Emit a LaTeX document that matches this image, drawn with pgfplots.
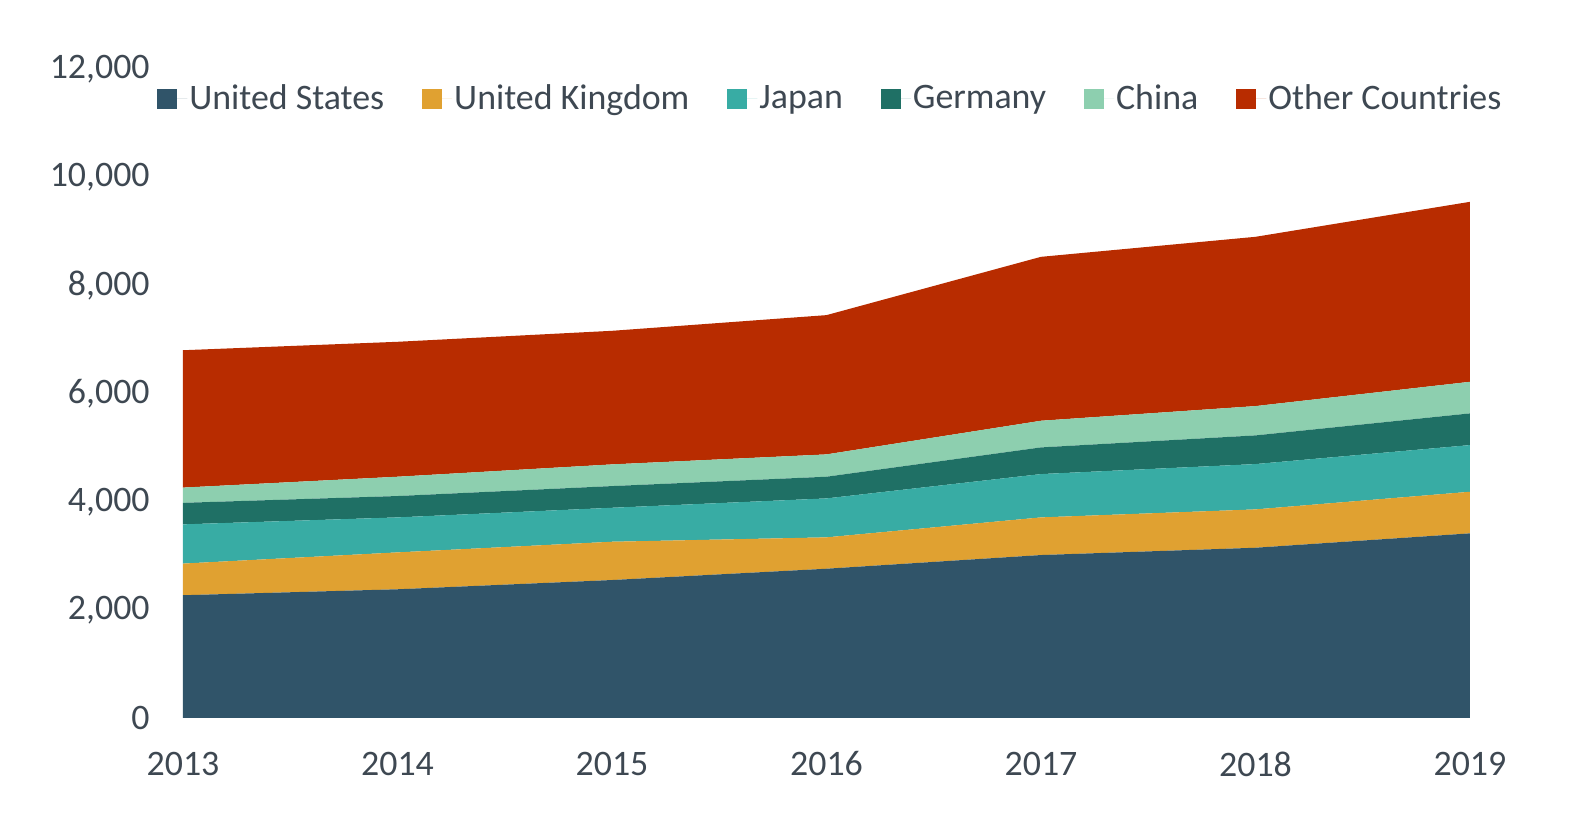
\documentclass[border=0pt]{standalone}
\usepackage{pgfplots}
\pgfplotsset{compat=1.18}
\usepackage{fontspec}
\setmainfont{Carlito}
\definecolor{usc}{HTML}{305469}
\definecolor{ukc}{HTML}{E0A131}
\definecolor{jpc}{HTML}{38ACA4}
\definecolor{dec}{HTML}{1F7065}
\definecolor{cnc}{HTML}{8DCFAF}
\definecolor{otc}{HTML}{B82C00}
\definecolor{txt}{HTML}{3E4852}
\begin{document}
\begin{tikzpicture}
\begin{axis}[
  at={(0,0)}, anchor=south west,
  scale only axis,
  width=643.5bp, height=324.5bp,
  xmin=2013, xmax=2019,
  ymin=0, ymax=12000,
  xtick={2013,2014,2015,2016,2017,2018,2019},
  xticklabels={2013,2014,2015,2016,2017,2018,2019},
  ytick={0,2000,4000,6000,8000,10000,12000},
  /pgf/number format/assume math mode=true,
  /pgf/number format/1000 sep={,},
  scaled y ticks=false,
  axis line style={draw=none},
  tick style={draw=none},
  major tick length=0pt,
  ticklabel style={font=\fontsize{18}{20}\selectfont, text=txt, inner sep=0pt},
  xticklabel style={anchor=center, yshift=-23bp},
  yticklabel style={anchor=east, xshift=-16.5bp},
  stack plots=y,
  legend columns=-1,
  legend style={draw=none, fill=none, at={(0.503,0.9545)}, anchor=center,
    font=\fontsize{18}{20}\selectfont, text=txt,
    /tikz/every even column/.append style={column sep=18bp},
    nodes={inner sep=1bp}},
  legend image code/.code={\path (0bp,0bp) -- (15bp,0bp);\fill[#1] (0bp,-5bp) rectangle (10bp,5bp);},
]
\addplot[fill=usc, draw=none] coordinates {(2013,2270) (2014,2380) (2015,2551) (2016,2760) (2017,3013) (2018,3148) (2019,3414)} \closedcycle;
\addlegendentry{United States}
\addplot[fill=ukc, draw=none] coordinates {(2013,585) (2014,682) (2015,708) (2016,580) (2017,696) (2018,709) (2019,769)} \closedcycle;
\addlegendentry{United Kingdom}
\addplot[fill=jpc, draw=none] coordinates {(2013,725) (2014,647) (2015,628) (2016,720) (2017,801) (2018,838) (2019,863)} \closedcycle;
\addlegendentry{Japan}
\addplot[fill=dec, draw=none] coordinates {(2013,398) (2014,395) (2015,401) (2016,401) (2017,493) (2018,530) (2019,586)} \closedcycle;
\addlegendentry{Germany}
\addplot[fill=cnc, draw=none] coordinates {(2013,282) (2014,357) (2015,401) (2016,413) (2017,493) (2018,542) (2019,584)} \closedcycle;
\addlegendentry{China}
\addplot[fill=otc, draw=none] coordinates {(2013,2540) (2014,2495) (2015,2470) (2016,2575) (2017,3031) (2018,3130) (2019,3328)} \closedcycle;
\addlegendentry{Other Countries}
\end{axis}
\pgfresetboundingbox
\path[use as bounding box] (-91.5bp,-59.5bp) rectangle (706bp,359bp);
\end{tikzpicture}
\end{document}
